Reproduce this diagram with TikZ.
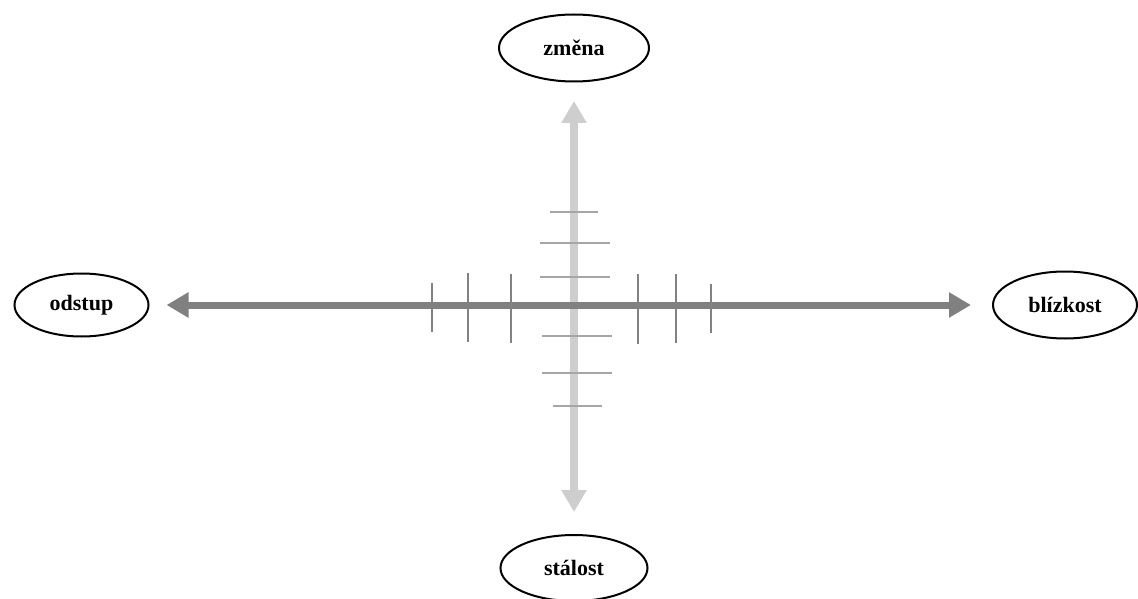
\documentclass[tikz,border=0pt]{standalone}
\usepackage{fontspec}
\setmainfont{Liberation Serif}
\usetikzlibrary{shapes.geometric,arrows.meta}
\definecolor{axisdark}{RGB}{128,128,128}
\definecolor{axislight}{RGB}{206,206,206}
\definecolor{tickdark}{RGB}{130,130,130}
\definecolor{ticklight}{RGB}{166,166,166}
\tikzset{
  pole/.style={ellipse, draw=black, line width=2pt, inner sep=0pt,
    font=\fontsize{22}{26}\selectfont\bfseries},
  hbar/.style={draw=axisdark, line width=7pt,
    {Triangle[length=22pt,width=24pt]}-{Triangle[length=22pt,width=24pt]}},
  vbar/.style={draw=axislight, line width=8pt,
    {Triangle[length=22pt,width=24pt]}-{Triangle[length=22pt,width=24pt]}},
  vtick/.style={draw=tickdark, line width=2pt},
  htick/.style={draw=ticklight, line width=1.6pt}
}
\begin{document}
\begin{tikzpicture}[x=1pt,y=-1pt]
\useasboundingbox (0,0) rectangle (1138,599);
\node[pole, minimum width=150pt, minimum height=67pt] (zmena) at (574,48) {změna};
\node[pole, minimum width=147pt, minimum height=66pt] (stalost) at (574,568) {stálost};
\node[pole, minimum width=134pt, minimum height=63pt] (odstup) at (81.5,305) {odstup};
\node[pole, minimum width=144pt, minimum height=67pt] (blizkost) at (1065,305) {blízkost};
% vertical axis
\draw[vbar, shorten <=18.5pt, shorten >=22pt] (zmena) -- (stalost);
% ticks across vertical axis
\draw[htick] (550,212) -- (598,212);
\draw[htick] (540,243) -- (610,243);
\draw[htick] (540,277) -- (610,277);
\draw[htick] (542,336) -- (612,336);
\draw[htick] (542,373) -- (612,373);
\draw[htick] (553,406) -- (602,406);
% horizontal axis
\draw[hbar, shorten <=17pt, shorten >=21pt] (odstup) -- (blizkost);
% ticks across horizontal axis
\draw[vtick] (432,283) -- (432,332);
\draw[vtick] (468,273) -- (468,342);
\draw[vtick] (511,274) -- (511,343);
\draw[vtick] (638,274) -- (638,344);
\draw[vtick] (676,274) -- (676,343);
\draw[vtick] (711,284) -- (711,333);
\end{tikzpicture}
\end{document}
